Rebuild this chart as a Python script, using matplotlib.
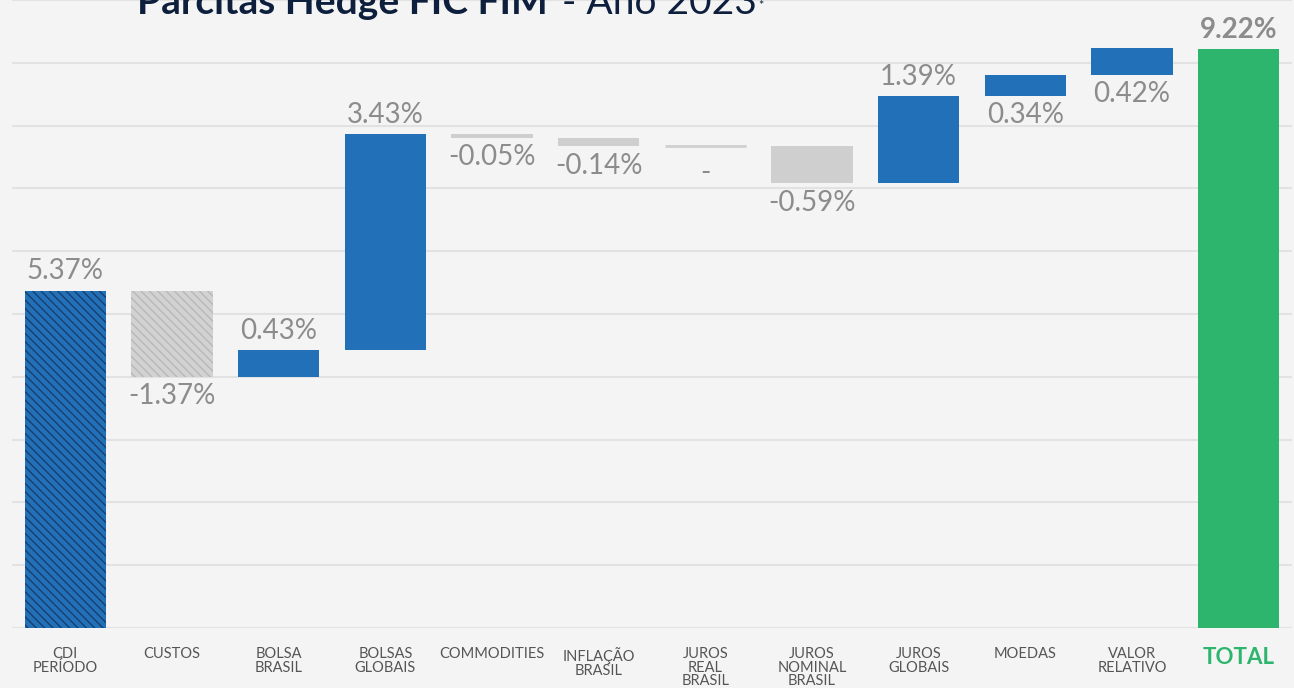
import numpy as np
import matplotlib.pyplot as plt

# categorias e contribuicoes (% no ano)
categories = ['CDI\nPERÍODO', 'CUSTOS', 'BOLSA\nBRASIL', 'BOLSAS\nGLOBAIS', 'COMMODITIES',
              'INFLAÇÃO\nBRASIL', 'JUROS\nREAL\nBRASIL', 'JUROS\nNOMINAL\nBRASIL',
              'JUROS\nGLOBAIS', 'MOEDAS', 'VALOR\nRELATIVO', 'TOTAL']
values = [5.37, -1.37, 0.43, 3.43, -0.05, -0.14, 0.0, -0.59, 1.39, 0.34, 0.42]
labels = ['5.37%', '-1.37%', '0.43%', '3.43%', '-0.05%', '-0.14%', '-', '-0.59%',
          '1.39%', '0.34%', '0.42%']
total = 9.22
total_label = '9.22%'
label_below = [False, True, False, False, True, True, True, True, False, True, True]

blue = '#2271b8'
grey = '#cfcfcf'
green = '#2db56e'
bg = '#f4f4f4'
txt = '#8c8c8c'

plt.rcParams['font.family'] = ['Lato', 'DejaVu Sans']

fig = plt.figure(figsize=(12.94, 6.88), dpi=100, facecolor=bg)
ax = fig.add_axes([12/1294, 60/688, 1280/1294, 628/688])
ax.set_facecolor(bg)

x = np.arange(len(categories))
w = 0.76
starts = np.concatenate([[0], np.cumsum(values)[:-1]])

for i, (v, s) in enumerate(zip(values, starts)):
    c = blue if v > 0 else grey
    if i == 0:
        ax.bar(x[i], v, w, bottom=s, color=blue, edgecolor='#173f6e', hatch='\\\\\\\\',
               linewidth=0, zorder=3)
    elif i == 1:
        ax.bar(x[i], v, w, bottom=s, color='#d2d2d2', edgecolor='#b8b8b8', hatch='\\\\\\\\',
               linewidth=0, zorder=3)
    elif v == 0:
        ax.hlines(s, x[i] - w / 2, x[i] + w / 2, color=grey, lw=2, zorder=3)
    else:
        ax.bar(x[i], v, w, bottom=s, color=c, linewidth=0, zorder=3)
    top = max(s, s + v)
    bot = min(s, s + v)
    if label_below[i]:
        off = 0.22 if v == 0 else 0.1
        ax.text(x[i], bot - off, labels[i], ha='center', va='top', fontsize=20, color=txt)
    else:
        ax.text(x[i], top + 0.1, labels[i], ha='center', va='bottom', fontsize=20, color=txt)

ax.bar(x[-1], total, w, color=green, linewidth=0, zorder=3)
ax.text(x[-1], total + 0.1, total_label, ha='center', va='bottom', fontsize=20,
        color=txt, fontweight='bold')

ax.set_xlim(-0.5, 11.5)
ax.set_ylim(0, 10)
ax.set_yticks(np.arange(0, 11, 1))
ax.yaxis.grid(True, color='#e2e2e2', lw=1.5, zorder=0)
ax.tick_params(axis='y', left=False, labelleft=False)
ax.tick_params(axis='x', length=0, pad=14)
ax.set_xticks(x)
ax.set_xticklabels(categories, fontsize=10.5, color='#555555', linespacing=0.95, va='top')
lt = ax.get_xticklabels()[-1]
lt.set_color(green)
lt.set_fontweight('bold')
lt.set_fontsize(16)
for sp in ax.spines.values():
    sp.set_visible(False)

# titulo (cortado no topo, como no original)
t1 = fig.text(137/1294, 1 - 14/688, 'Parcitas Hedge FIC FIM', fontsize=28, fontweight='bold',
              color='#0d1f3c', va='baseline', ha='left')
fig.canvas.draw()
bb = t1.get_window_extent()
t2 = fig.text((bb.x1 + 14) / 1294, 1 - 14/688, '- Ano 2023', fontsize=28, color='#0d1f3c',
              va='baseline', ha='left')
fig.canvas.draw()
bb2 = t2.get_window_extent()
fig.text((bb2.x1 + 2) / 1294, 1 - 10/688, '*', fontsize=9, color='#0d1f3c',
         va='baseline', ha='left')

fig.savefig('out.png', dpi=100, facecolor=bg)
